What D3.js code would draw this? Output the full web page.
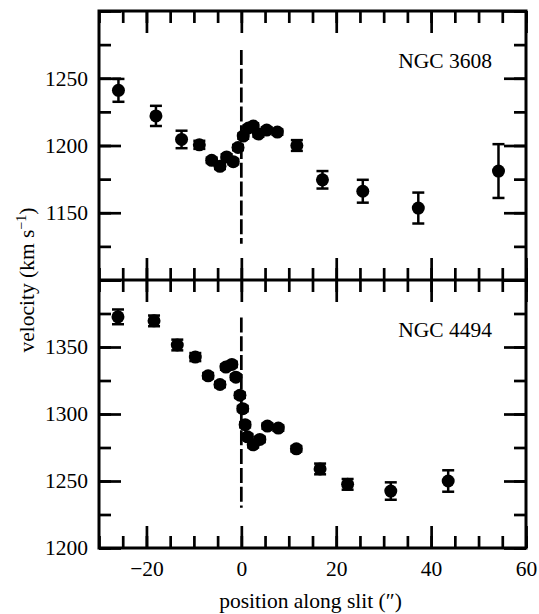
<!DOCTYPE html>
<html>
<head>
<meta charset="utf-8">
<script src="https://cdn.jsdelivr.net/npm/d3@7"></script>
<style>
  html, body { margin: 0; padding: 0; background: #fff; }
  svg { display: block; }
</style>
</head>
<body>
<svg id="chart" width="539" height="614"></svg>
<script>
'use strict';

/* ── data ────────────────────────────────── */
const pos3608 = [-25.9, -18.0, -12.6, -8.85, -6.25, -4.5, -3.1, -1.7, -0.7, 0.4, 1.5, 2.5, 3.6, 5.35, 7.6, 11.7, 17.1, 25.6, 37.3, 54.2];
const vel3608 = [1241, 1222, 1204.5, 1200.5, 1189, 1184.5, 1191.5, 1188, 1198.5, 1207, 1213, 1214.5, 1208.5, 1211.5, 1210, 1200, 1174.5, 1166, 1153.5, 1181];
const err3608 = [8.5, 7.5, 6.5, 3, 2, 2, 2, 2, 2, 2, 2, 2, 2, 2, 2, 4, 6.5, 8.5, 11.5, 20];

const pos4494 = [-26.0, -18.4, -13.5, -9.7, -7.0, -4.5, -3.25, -2.0, -1.15, -0.3, 0.3, 0.8, 1.3, 2.5, 3.9, 5.5, 7.8, 11.6, 16.6, 22.4, 31.5, 43.6];
const vel4494 = [1372.5, 1369.5, 1351.5, 1342.5, 1328.5, 1322, 1335, 1337, 1327.5, 1314, 1304, 1292, 1283, 1277, 1281, 1291, 1289.5, 1274, 1259, 1247.5, 1242.5, 1250];
const err4494 = [5.5, 4, 4, 3, 2, 2, 2, 2, 2, 2, 2, 2, 2, 2, 2, 2, 2, 2, 4, 4, 6.5, 8];

const xMajor = [-20, 0, 20, 40, 60];
const xLabels = ['−20', '0', '20', '40', '60'];
const yLabels3608 = [1150, 1200, 1250];
const yLabels4494 = [1200, 1250, 1300, 1350];

/* ── layout ──────────────────────────────── */
const L = 99, R = 526, T = 11, M = 280, B = 548;
const FONT = "'Liberation Serif', 'Times New Roman', serif";
const FS = 21.5;
const MAJ = 22, MIN = 12, SW = 2.7;

const svg = d3.select('#chart');

const x = d3.scaleLinear().domain([-30, 60]).range([L, R]);

const panels = [
  { name: 'NGC 3608', pos: pos3608, vel: vel3608, err: err3608,
    y: d3.scaleLinear().domain([1100, 1300]).range([M, T]),
    top: T, bottom: M, labels: yLabels3608, dash: [1127, 1271], xText: false },
  { name: 'NGC 4494', pos: pos4494, vel: vel4494, err: err4494,
    y: d3.scaleLinear().domain([1200, 1400]).range([B, M]),
    top: M, bottom: B, labels: yLabels4494, dash: [1230, 1372], xText: true },
];

function styleText(g) {
  g.select('.domain').remove();
  g.selectAll('.tick line').remove();
  g.selectAll('text').attr('font-family', FONT).attr('font-size', FS).attr('fill', '#000');
}

function styleTicks(g) {
  g.select('.domain').remove();
  g.selectAll('text').remove();
  g.selectAll('line').attr('stroke', '#000').attr('stroke-width', SW);
}

/* ── marks and labels ────────────────────── */
panels.forEach(p => {
  const y = p.y;

  // dashed zero line
  svg.append('line')
    .attr('x1', x(0)).attr('x2', x(0))
    .attr('y1', y(p.dash[1])).attr('y2', y(p.dash[0]))
    .attr('stroke', '#000').attr('stroke-width', SW)
    .attr('stroke-dasharray', '15,3.8');

  // tick labels
  if (p.xText) {
    svg.append('g').attr('transform', `translate(0,${p.bottom})`)
      .call(d3.axisBottom(x).tickValues(xMajor).tickSize(0).tickPadding(13)
        .tickFormat((d, i) => xLabels[i]))
      .call(styleText);
  }
  svg.append('g').attr('transform', `translate(${L},0)`)
    .call(d3.axisLeft(y).tickValues(p.labels).tickSize(0).tickPadding(11)
      .tickFormat(d3.format('d')))
    .call(styleText);

  // error bars
  const eg = svg.append('g').attr('stroke', '#000').attr('stroke-width', 2.5);
  p.pos.forEach((px, i) => {
    const cx = x(px), hi = y(p.vel[i] + p.err[i]), lo = y(p.vel[i] - p.err[i]);
    eg.append('line').attr('x1', cx).attr('x2', cx).attr('y1', hi).attr('y2', lo);
    eg.append('line').attr('x1', cx - 6).attr('x2', cx + 6).attr('y1', hi).attr('y2', hi);
    eg.append('line').attr('x1', cx - 6).attr('x2', cx + 6).attr('y1', lo).attr('y2', lo);
  });

  // points
  svg.append('g').selectAll('circle').data(p.pos).join('circle')
    .attr('cx', d => x(d))
    .attr('cy', (d, i) => y(p.vel[i]))
    .attr('r', 6.5)
    .attr('fill', '#000');

  // galaxy label
  svg.append('text')
    .attr('x', 492).attr('y', p.top + 56.5)
    .attr('text-anchor', 'end')
    .attr('font-family', FONT).attr('font-size', FS)
    .text(p.name);
});

// axis titles
svg.append('text')
  .attr('x', (L + R) / 2 - 2).attr('y', 607.5)
  .attr('text-anchor', 'middle')
  .attr('font-family', FONT).attr('font-size', FS)
  .text('position along slit (″)');

const yt = svg.append('text')
  .attr('transform', `translate(34,${M}) rotate(-90)`)
  .attr('text-anchor', 'middle')
  .attr('font-family', FONT).attr('font-size', FS);
yt.append('tspan').text('velocity (km s');
yt.append('tspan').attr('font-size', 14).attr('dy', -8).text('−1');
yt.append('tspan').attr('dy', 8).text(')');

/* ── frame and inward ticks, drawn last ──── */
svg.append('path')
  .attr('d', `M${L},${T}H${R}V${B}H${L}Z M${L},${M}H${R}`)
  .attr('fill', 'none').attr('stroke', '#000').attr('stroke-width', 3);

panels.forEach(p => {
  const y = p.y;
  const [y0, y1] = y.domain();
  const sets = [
    { vx: d3.range(-30, 61, 5), vy: d3.range(y0, y1 + 1, 25), len: MIN },
    { vx: xMajor, vy: d3.range(y0, y1 + 1, 50), len: MAJ },
  ];
  sets.forEach(s => {
    svg.append('g').attr('transform', `translate(0,${p.bottom})`)
      .call(d3.axisBottom(x).tickValues(s.vx).tickSize(-s.len)).call(styleTicks);
    svg.append('g').attr('transform', `translate(0,${p.top})`)
      .call(d3.axisTop(x).tickValues(s.vx).tickSize(-s.len)).call(styleTicks);
    svg.append('g').attr('transform', `translate(${L},0)`)
      .call(d3.axisLeft(y).tickValues(s.vy).tickSize(-s.len)).call(styleTicks);
    svg.append('g').attr('transform', `translate(${R},0)`)
      .call(d3.axisRight(y).tickValues(s.vy).tickSize(-s.len)).call(styleTicks);
  });
});
</script>
</body>
</html>
